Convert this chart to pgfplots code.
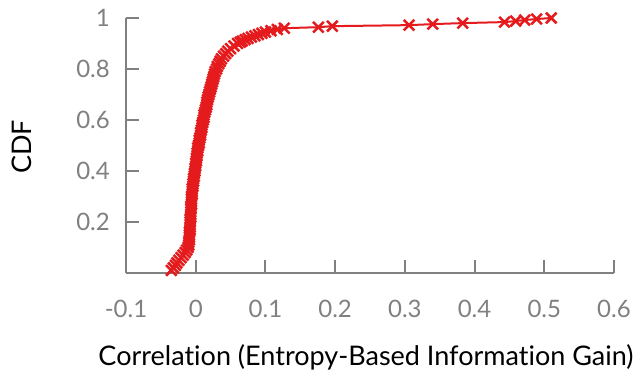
\documentclass[border=0pt]{standalone}
\usepackage{pgfplots}
\pgfplotsset{compat=1.18}
\usepackage{fontspec}
\setmainfont[Ligatures={NoCommon}]{Lato}
\definecolor{cdfred}{RGB}{228,26,28}
\definecolor{axgray}{RGB}{128,128,128}
\pgfplotstableread{
x y
-0.035 0.01
-0.032 0.02
-0.029 0.03
-0.027 0.04
-0.024 0.05
-0.021 0.06
-0.018 0.07
-0.015 0.08
-0.013 0.09
-0.011 0.10
-0.010 0.11
-0.010 0.12
-0.009 0.13
-0.009 0.14
-0.009 0.15
-0.009 0.16
-0.008 0.17
-0.008 0.18
-0.008 0.19
-0.008 0.20
-0.008 0.21
-0.007 0.22
-0.007 0.23
-0.007 0.24
-0.007 0.25
-0.007 0.26
-0.006 0.27
-0.006 0.28
-0.006 0.29
-0.006 0.30
-0.005 0.31
-0.005 0.32
-0.005 0.33
-0.004 0.34
-0.004 0.35
-0.003 0.36
-0.003 0.37
-0.002 0.38
-0.002 0.39
-0.001 0.40
-0.001 0.41
0.000 0.42
0.000 0.43
0.001 0.44
0.001 0.45
0.002 0.46
0.002 0.47
0.003 0.48
0.003 0.49
0.004 0.50
0.005 0.51
0.005 0.52
0.006 0.53
0.007 0.54
0.007 0.55
0.008 0.56
0.009 0.57
0.009 0.58
0.010 0.59
0.011 0.60
0.012 0.61
0.012 0.62
0.013 0.63
0.014 0.64
0.015 0.65
0.016 0.66
0.016 0.67
0.017 0.68
0.018 0.69
0.019 0.70
0.020 0.71
0.021 0.72
0.022 0.73
0.023 0.74
0.024 0.75
0.025 0.76
0.026 0.77
0.027 0.78
0.028 0.79
0.030 0.80
0.031 0.81
0.033 0.82
0.035 0.83
0.037 0.84
0.040 0.85
0.043 0.86
0.046 0.87
0.050 0.88
0.055 0.89
0.060 0.90
0.064 0.905
0.067 0.91
0.071 0.915
0.075 0.92
0.080 0.925
0.085 0.93
0.090 0.935
0.095 0.94
0.100 0.945
0.108 0.95
0.117 0.955
0.127 0.96
0.176 0.964
0.196 0.968
0.306 0.972
0.340 0.976
0.383 0.980
0.443 0.984
0.459 0.988
0.472 0.992
0.489 0.996
0.510 1.000
}\cdfdata
\begin{document}
\begin{tikzpicture}
\useasboundingbox (-126pt,-99pt) rectangle (515pt,273pt);
\begin{axis}[
  at={(0,0)}, anchor=south west,
  scale only axis,
  width=488pt, height=255pt,
  xmin=-0.1, xmax=0.6, ymin=0, ymax=1,
  axis x line=bottom, axis y line=left,
  axis line style={-, axgray, line width=2pt},
  tick align=inside,
  major tick length=13pt,
  tick style={axgray, line width=2pt},
  xtick={-0.1,0,0.1,0.2,0.3,0.4,0.5,0.6},
  xticklabels={-0.1,0,0.1,0.2,0.3,0.4,0.5,0.6},
  ytick={0.2,0.4,0.6,0.8,1},
  yticklabels={0.2,0.4,0.6,0.8,1},
  xticklabel style={font=\fontsize{24}{28}\selectfont, text=axgray, inner sep=0pt, anchor=base, yshift=-45pt},
  yticklabel style={font=\fontsize{24}{28}\selectfont, text=axgray, inner sep=0pt, anchor=east, xshift=-16pt},
  xlabel={Correlation (Entropy-Based Information Gain)},
  xlabel style={font=\fontsize{27}{31}\selectfont, at={(axis description cs:0,0)}, anchor=base, inner sep=0pt, xshift=240pt, yshift=-93pt},
  ylabel={CDF},
  ylabel style={font=\fontsize{27}{31}\selectfont, at={(axis description cs:-0.2131,0.494)}, anchor=center, inner sep=0pt},
  clip=false,
]
\addplot[color=cdfred, line width=2pt, mark=x, mark size=7.5pt, mark options={line width=2.5pt}] table[x=x, y=y] {\cdfdata};
\end{axis}
\end{tikzpicture}
\end{document}
